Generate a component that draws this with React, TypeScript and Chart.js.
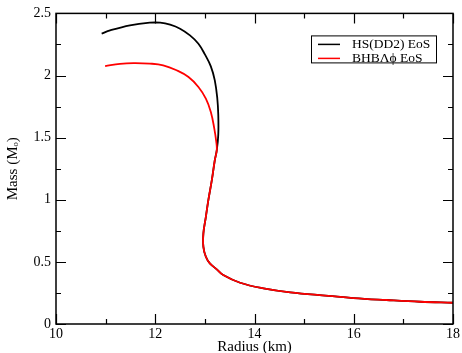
import React, { useEffect, useRef } from "react";
import { Chart, registerables } from "chart.js";

Chart.register(...registerables);

// HS(DD2) EoS (black)
const blackRadius = [10.92, 11.09, 11.49, 11.89, 12.1, 12.3, 12.5, 12.7, 12.87, 13.0, 13.12, 13.2, 13.25, 13.27, 13.27, 13.24, 13.2, 13.14, 13.07, 13.02, 12.97, 12.97, 13.02, 13.1, 13.24, 13.37, 13.71, 14.18, 14.72, 15.49, 15.99, 16.66, 17.34, 18.0];
const blackMass = [2.337, 2.363, 2.404, 2.425, 2.425, 2.409, 2.377, 2.323, 2.256, 2.17, 2.074, 1.961, 1.817, 1.684, 1.523, 1.399, 1.318, 1.158, 0.997, 0.863, 0.729, 0.621, 0.541, 0.488, 0.44, 0.394, 0.332, 0.287, 0.255, 0.227, 0.209, 0.193, 0.179, 0.171];

// BHBΛϕ EoS (red)
const redRadius = [10.99, 11.29, 11.56, 11.89, 12.16, 12.43, 12.67, 12.87, 13.02, 13.12, 13.19, 13.23, 13.24, 13.2, 13.14, 13.07, 13.02, 12.97, 12.97, 13.02, 13.1, 13.24, 13.37, 13.71, 14.18, 14.72, 15.49, 15.99, 16.66, 17.34, 18.0];
const redMass = [2.076, 2.094, 2.1, 2.096, 2.082, 2.042, 1.988, 1.908, 1.814, 1.707, 1.573, 1.466, 1.399, 1.318, 1.158, 0.997, 0.863, 0.729, 0.621, 0.541, 0.488, 0.44, 0.394, 0.332, 0.287, 0.255, 0.227, 0.209, 0.193, 0.179, 0.171];

const seriesLabels = ["HS(DD2) EoS", "BHBΛϕ EoS"];
const seriesColors = ["#000000", "#ff0000"];

const xMajorTicks = [10, 12, 14, 16, 18];
const xMinorTicks = [11, 13, 15, 17];
const yMajorTicks = [0, 0.5, 1, 1.5, 2, 2.5];
const yMinorTicks = [0.25, 0.75, 1.25, 1.75, 2.25];

const xTitle = "Radius (km)";
const yTitle = "Mass (Mₒ)";

const FONT = "'Liberation Serif', 'Times New Roman', serif";

const framePlugin = {
  id: "frameTicksLegend",
  afterDatasetsDraw(chart: any) {
    const { ctx, chartArea: a, scales } = chart;
    const xs = scales.x;
    const ys = scales.y;
    ctx.save();
    ctx.strokeStyle = "#000";
    ctx.lineWidth = 1.5;
    ctx.strokeRect(a.left, a.top, a.right - a.left, a.bottom - a.top);
    ctx.lineWidth = 1.2;
    const major = 10;
    const minor = 5;
    ctx.beginPath();
    const xt = (vals: number[], len: number) => {
      vals.forEach((v) => {
        const px = Math.round(xs.getPixelForValue(v)) + 0.5;
        ctx.moveTo(px, a.bottom);
        ctx.lineTo(px, a.bottom - len);
        ctx.moveTo(px, a.top);
        ctx.lineTo(px, a.top + len);
      });
    };
    const yt = (vals: number[], len: number) => {
      vals.forEach((v) => {
        const py = Math.round(ys.getPixelForValue(v)) + 0.5;
        ctx.moveTo(a.left, py);
        ctx.lineTo(a.left + len, py);
        ctx.moveTo(a.right, py);
        ctx.lineTo(a.right - len, py);
      });
    };
    xt(xMajorTicks, major);
    xt(xMinorTicks, minor);
    yt(yMajorTicks, major);
    yt(yMinorTicks, minor);
    ctx.stroke();

    // legend box
    const bx = a.right - 142;
    const by = a.top + 22;
    const bw = 125;
    const bh = 27;
    ctx.fillStyle = "#fff";
    ctx.fillRect(bx, by, bw, bh);
    ctx.lineWidth = 1;
    ctx.strokeStyle = "#000";
    ctx.strokeRect(bx + 0.5, by + 0.5, bw, bh);
    ctx.font = `13.5px ${FONT}`;
    ctx.textBaseline = "middle";
    ctx.textAlign = "left";
    seriesLabels.forEach((lab, i) => {
      const yy = by + 9 + i * 14;
      ctx.strokeStyle = seriesColors[i];
      ctx.lineWidth = 1.5;
      ctx.beginPath();
      ctx.moveTo(bx + 7, yy);
      ctx.lineTo(bx + 29, yy);
      ctx.stroke();
      ctx.fillStyle = "#000";
      ctx.fillText(lab, bx + 41, yy);
    });
    ctx.restore();
  },
};

export default function App() {
  const ref = useRef<HTMLCanvasElement | null>(null);
  useEffect(() => {
    if (!ref.current) return;
    const chart = new Chart(ref.current, {
      type: "scatter",
      data: {
        datasets: [
          {
            label: seriesLabels[0],
            data: blackRadius.map((x, i) => ({ x, y: blackMass[i] })),
            borderColor: seriesColors[0],
            backgroundColor: seriesColors[0],
            showLine: true,
            pointRadius: 0,
            borderWidth: 1.8,
            tension: 0.4,
            order: 1,
          },
          {
            label: seriesLabels[1],
            data: redRadius.map((x, i) => ({ x, y: redMass[i] })),
            borderColor: seriesColors[1],
            backgroundColor: seriesColors[1],
            showLine: true,
            pointRadius: 0,
            borderWidth: 1.8,
            tension: 0.4,
            order: 0,
          },
        ],
      },
      options: {
        responsive: false,
        animation: false,
        layout: { padding: { top: 13, right: 9, left: 0, bottom: 0 } },
        plugins: { legend: { display: false }, tooltip: { enabled: false } },
        scales: {
          x: {
            type: "linear",
            min: 10,
            max: 18,
            grid: { display: false, drawTicks: false },
            border: { display: false },
            ticks: { stepSize: 2, color: "#000", font: { family: FONT, size: 14 }, padding: 2, maxRotation: 0, callback: (v: any) => String(v) },
            title: { display: true, text: xTitle, color: "#000", font: { family: FONT, size: 15 }, padding: { top: -3, bottom: -3 } },
            afterFit: (s: any) => { s.height = 29; },
          },
          y: {
            type: "linear",
            min: 0,
            max: 2.5,
            grid: { display: false, drawTicks: false },
            border: { display: false },
            ticks: { stepSize: 0.5, color: "#000", font: { family: FONT, size: 14 }, padding: 5, callback: (v: any) => String(v) },
            title: { display: true, text: yTitle, color: "#000", font: { family: FONT, size: 15 }, padding: { top: 4, bottom: 0 } },
            afterFit: (s: any) => { s.width = 56; },
          },
        },
      },
      plugins: [framePlugin],
    } as any);
    return () => chart.destroy();
  }, []);
  return (
    <div style={{ position: "fixed", left: 0, top: 0, width: 462, height: 353, background: "#fff" }}>
      <canvas ref={ref} width={462} height={353} style={{ display: "block" }} />
    </div>
  );
}
